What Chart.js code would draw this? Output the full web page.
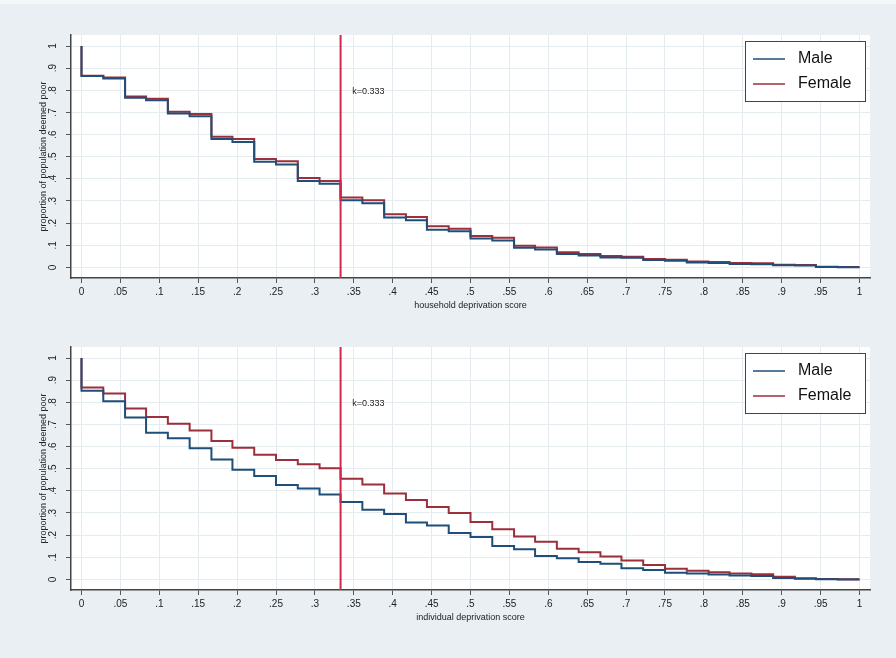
<!DOCTYPE html>
<html>
<head>
<meta charset="utf-8">
<script src="https://cdn.jsdelivr.net/npm/chart.js@4.4.0/dist/chart.umd.min.js"></script>
<style>
  body { margin: 0; background: #e9eff2; width: 896px; height: 658px; overflow: hidden; position: relative; }
  .top-band { position: absolute; left: 0; top: 0; width: 896px; height: 4px; background: #f4f7f8; }
  .box { position: absolute; left: 0; width: 896px; height: 329px; }
</style>
</head>
<body>
<div class="top-band"></div>
<div class="box" style="top:0"><canvas id="hhChart" width="896" height="329"></canvas></div>
<div class="box" style="top:329px"><canvas id="indChart" width="896" height="329"></canvas></div>
<script>
// poverty cutoff k (deprivation score steps)
const cutoffs = [0, 0.028, 0.056, 0.083, 0.111, 0.139, 0.167, 0.194, 0.222, 0.25, 0.278, 0.306,
  0.333, 0.361, 0.389, 0.417, 0.444, 0.472, 0.5, 0.528, 0.556, 0.583, 0.611, 0.639, 0.667,
  0.694, 0.722, 0.75, 0.778, 0.806, 0.833, 0.861, 0.889, 0.917, 0.944, 0.972, 1]
const atZero = 1

// household deprivation score
const hhMale = [0.865, 0.853, 0.766, 0.755, 0.695, 0.683, 0.58, 0.567, 0.477, 0.465, 0.39, 0.378,
  0.303, 0.29, 0.225, 0.213, 0.17, 0.163, 0.13, 0.122, 0.089, 0.081, 0.06, 0.054, 0.045,
  0.043, 0.033, 0.03, 0.022, 0.02, 0.015, 0.014, 0.01, 0.008, 0.002, 0.001, 0.001]
const hhFemale = [0.866, 0.858, 0.772, 0.762, 0.703, 0.693, 0.59, 0.58, 0.49, 0.48, 0.404, 0.39,
  0.316, 0.303, 0.24, 0.228, 0.186, 0.175, 0.142, 0.134, 0.098, 0.09, 0.068, 0.06, 0.051,
  0.048, 0.038, 0.035, 0.026, 0.024, 0.02, 0.019, 0.012, 0.011, 0.003, 0.002, 0.002]

// individual deprivation score
const indMale = [0.852, 0.805, 0.731, 0.663, 0.638, 0.592, 0.542, 0.495, 0.467, 0.427, 0.411, 0.384,
  0.35, 0.315, 0.295, 0.257, 0.244, 0.209, 0.191, 0.151, 0.136, 0.106, 0.095, 0.079, 0.071,
  0.05, 0.042, 0.03, 0.027, 0.022, 0.018, 0.015, 0.006, 0.003, 0.001, 0, 0]
const indFemale = [0.867, 0.84, 0.772, 0.734, 0.703, 0.673, 0.625, 0.595, 0.563, 0.539, 0.52, 0.502,
  0.455, 0.429, 0.388, 0.359, 0.327, 0.3, 0.259, 0.227, 0.194, 0.17, 0.138, 0.123, 0.103,
  0.085, 0.065, 0.048, 0.039, 0.032, 0.027, 0.023, 0.012, 0.005, 0.002, 0.001, 0.001]

const xTickValues = [0, 0.05, 0.1, 0.15, 0.2, 0.25, 0.3, 0.35, 0.4, 0.45, 0.5, 0.55, 0.6, 0.65, 0.7, 0.75, 0.8, 0.85, 0.9, 0.95, 1]
const xTickLabels = ['0', '.05', '.1', '.15', '.2', '.25', '.3', '.35', '.4', '.45', '.5', '.55', '.6', '.65', '.7', '.75', '.8', '.85', '.9', '.95', '1']
const yTickValues = [0, 0.1, 0.2, 0.3, 0.4, 0.5, 0.6, 0.7, 0.8, 0.9, 1]
const yTickLabels = ['0', '.1', '.2', '.3', '.4', '.5', '.6', '.7', '.8', '.9', '1']

const kLine = 0.333
const kLabel = 'k=0.333'
const seriesNames = ['Male', 'Female']

const MALE = '#1f4e79'
const FEMALE = '#9b2f3c'
const FONT = "'Liberation Sans', Arial, sans-serif"

const toPoints = (vals) => [{x: 0, y: atZero}].concat(vals.map((v, i) => ({x: cutoffs[i], y: v})))

// white plot area + cutoff line + label + boxed legend
const decor = {
  id: 'decor',
  beforeDraw(chart) {
    const {ctx, chartArea: a} = chart
    ctx.save()
    ctx.fillStyle = '#ffffff'
    ctx.fillRect(a.left, a.top, a.right - a.left, a.bottom - a.top)
    ctx.restore()
  },
  afterDatasetsDraw(chart) {
    const {ctx, chartArea: a, scales: {x, y}} = chart
    const px = x.getPixelForValue(kLine)
    ctx.save()
    ctx.strokeStyle = '#d3264f'
    ctx.lineWidth = 2
    ctx.beginPath()
    ctx.moveTo(px, a.top)
    ctx.lineTo(px, a.bottom)
    ctx.stroke()

    ctx.fillStyle = '#222'
    ctx.font = '9px ' + FONT
    ctx.textBaseline = 'middle'
    ctx.fillText(kLabel, x.getPixelForValue(0.348), y.getPixelForValue(0.793))

    // legend
    const lx = a.right - 125, ly = a.top + 6, lw = 120, lh = 60
    ctx.fillStyle = '#fff'
    ctx.fillRect(lx, ly, lw, lh)
    ctx.strokeStyle = '#444'
    ctx.lineWidth = 1
    ctx.strokeRect(lx + 0.5, ly + 0.5, lw, lh)
    ctx.font = '16px ' + FONT
    ctx.textBaseline = 'middle'
    const cols = [MALE, FEMALE]
    seriesNames.forEach((name, i) => {
      const yy = ly + 18 + i * 25
      ctx.strokeStyle = cols[i]
      ctx.lineWidth = 1.5
      ctx.beginPath()
      ctx.moveTo(lx + 8, yy)
      ctx.lineTo(lx + 40, yy)
      ctx.stroke()
      ctx.fillStyle = '#111'
      ctx.fillText(name, lx + 53, yy)
    })
    ctx.restore()
  }
}

function makeChart(id, male, female, xTitle, pad) {
  return new Chart(id, {
    type: 'line',
    data: {
      datasets: [
        {label: seriesNames[0], data: toPoints(male), borderColor: MALE, borderWidth: 2, stepped: 'before', pointRadius: 0, fill: false},
        {label: seriesNames[1], data: toPoints(female), borderColor: FEMALE, borderWidth: 2, stepped: 'before', pointRadius: 0, fill: false}
      ]
    },
    options: {
      responsive: false,
      animation: false,
      events: [],
      layout: {padding: {left: 38, top: pad.top, right: 26, bottom: pad.bottom}},
      plugins: {legend: {display: false}, tooltip: {enabled: false}},
      scales: {
        x: {
          type: 'linear',
          min: -0.0135,
          max: 1.0135,
          afterBuildTicks: (s) => { s.ticks = xTickValues.map(v => ({value: v})) },
          afterFit: (s) => { s.height = 33 },
          ticks: {
            callback: (v) => xTickLabels[xTickValues.indexOf(v)],
            maxRotation: 0, minRotation: 0, autoSkip: false,
            color: '#222', font: {family: FONT, size: 10}, padding: 3
          },
          grid: {color: '#e4ecf0', tickColor: '#555', tickLength: 5, lineWidth: 1},
          border: {display: true, color: '#444', width: 1.5},
          title: {display: true, text: xTitle, color: '#222', font: {family: FONT, size: 9}, padding: 0}
        },
        y: {
          type: 'linear',
          min: -0.048,
          max: 1.05,
          afterBuildTicks: (s) => { s.ticks = yTickValues.map(v => ({value: v})) },
          afterFit: (s) => { s.width = 33 },
          ticks: {
            callback: (v) => yTickLabels[yTickValues.indexOf(v)],
            minRotation: 90, maxRotation: 90, crossAlign: 'center', autoSkip: false,
            color: '#222', font: {family: FONT, size: 10}, padding: 9
          },
          grid: {color: '#e4ecf0', tickColor: '#555', tickLength: 5, lineWidth: 1},
          border: {display: true, color: '#444', width: 1.5},
          title: {display: true, text: 'proportion of population deemed poor', color: '#222', font: {family: FONT, size: 9}, padding: 0}
        }
      }
    },
    plugins: [decor]
  })
}

makeChart('hhChart', hhMale, hhFemale, 'household deprivation score', {top: 35, bottom: 18})
makeChart('indChart', indMale, indFemale, 'individual deprivation score', {top: 18, bottom: 35})
</script>
</body>
</html>
